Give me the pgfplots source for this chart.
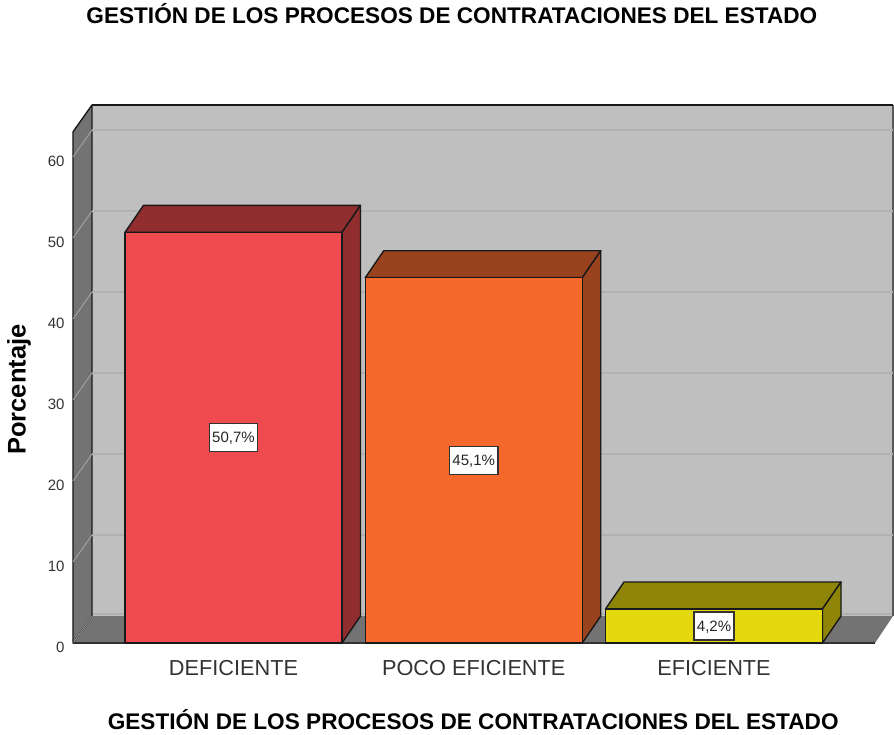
\documentclass[border=0pt]{standalone}
\usepackage{fontspec}
\setmainfont{Liberation Sans}
\usepackage{pgfplots}
\pgfplotsset{compat=1.18}

\definecolor{backwall}{HTML}{BFBFBF}
\definecolor{sidewall}{HTML}{737373}
\definecolor{gridback}{HTML}{B1B1B1}
\definecolor{gridside}{HTML}{A8A8A8}
\definecolor{redfront}{HTML}{EF4B4F}
\definecolor{redtop}{HTML}{8F2D2F}
\definecolor{orangefront}{HTML}{F4692B}
\definecolor{orangetop}{HTML}{99431E}
\definecolor{yellowfront}{HTML}{E4D80E}
\definecolor{yellowtop}{HTML}{8E8407}

\pgfplotsset{
  face/.style={line width=1.4pt, draw=black!90, line join=round},
  bar3d/.style={ybar, bar width=217pt, bar shift=0pt, face},
}

\begin{document}
\begin{tikzpicture}
\path[use as bounding box] (-73pt,-91pt) rectangle (821pt,643pt);
\begin{axis}[
  scale only axis, width=820pt, height=538pt,
  xmin=-0.668, xmax=2.745, ymin=0, ymax=66.42,
  clip=false,
  axis line style={draw=none},
  tick style={draw=none},
  xtick={0,1,2},
  xticklabels={DEFICIENTE,POCO EFICIENTE,EFICIENTE},
  ytick={0,10,20,30,40,50,60},
  /pgf/number format/assume math mode=true,
  x tick label style={font=\fontsize{21.7}{24}\selectfont, text=black!80, yshift=-14pt},
  y tick label style={font=\fontsize{15}{17}\selectfont, text=black!80, yshift=-4.5pt, xshift=-5pt},
  title={GESTIÓN DE LOS PROCESOS DE CONTRATACIONES DEL ESTADO},
  title style={font=\bfseries\fontsize{22.6}{24}\selectfont, at={(axis description cs:0.462,1.1)}, anchor=center, inner sep=0pt, yshift=32pt},
  xlabel={GESTIÓN DE LOS PROCESOS DE CONTRATACIONES DEL ESTADO},
  xlabel style={font=\bfseries\fontsize{22.6}{24}\selectfont, at={(axis description cs:0.488,0)}, anchor=center, inner sep=0pt, yshift=-77pt},
  ylabel={Porcentaje},
  ylabel style={font=\bfseries\fontsize{25.5}{26}\selectfont, at={(axis description cs:0,0.471)}, anchor=center, inner sep=0pt, yshift=54pt},
]
% walls and floor
\addplot[fill=backwall, draw=none] coordinates {(-0.589,3.33) (2.745,3.33) (2.745,66.42) (-0.589,66.42)} --cycle;
\addplot[fill=sidewall, draw=none] coordinates {(-0.668,0) (2.670,0) (2.745,3.33) (-0.589,3.33)} --cycle;
\addplot[gridback, line width=2pt] coordinates {(-0.589,3.6) (2.745,3.6)};
\addplot[black!65, line width=1.2pt] coordinates {(2.745,3.33) (2.745,66.42)};
\addplot[fill=sidewall, face] coordinates {(-0.668,0) (-0.589,3.33) (-0.589,66.42) (-0.668,63.1)} --cycle;
\addplot[black!90, line width=1.4pt] coordinates {(-0.589,66.42) (2.745,66.42)};
% grid lines on the walls
\addplot[gridback, line width=1.4pt, unbounded coords=jump] coordinates {
  (-0.589,13.33) (2.745,13.33) (2.745,nan)
  (-0.589,23.33) (2.745,23.33) (2.745,nan)
  (-0.589,33.33) (2.745,33.33) (2.745,nan)
  (-0.589,43.33) (2.745,43.33) (2.745,nan)
  (-0.589,53.33) (2.745,53.33) (2.745,nan)
  (-0.589,63.33) (2.745,63.33)
};
\addplot[gridside, line width=0.8pt, unbounded coords=jump] coordinates {
  (-0.668,0) (-0.589,3.33) (-0.589,nan)
  (-0.668,10) (-0.589,13.33) (-0.589,nan)
  (-0.668,20) (-0.589,23.33) (-0.589,nan)
  (-0.668,30) (-0.589,33.33) (-0.589,nan)
  (-0.668,40) (-0.589,43.33) (-0.589,nan)
  (-0.668,50) (-0.589,53.33) (-0.589,nan)
  (-0.668,60) (-0.589,63.33)
};
\addplot[black!80, line width=1.6pt] coordinates {(-0.668,0) (2.670,0)};
% DEFICIENTE
\addplot[fill=redtop, face] coordinates {(-0.4516,50.7) (-0.3746,54.03) (0.5286,54.03) (0.4516,50.7)} --cycle;
\addplot[fill=redtop, face] coordinates {(0.4516,0) (0.5286,3.33) (0.5286,54.03) (0.4516,50.7)} --cycle;
\addplot[bar3d, fill=redfront] coordinates {(0,50.7)};
% POCO EFICIENTE
\addplot[fill=orangetop, face] coordinates {(0.5484,45.1) (0.6254,48.43) (1.5286,48.43) (1.4516,45.1)} --cycle;
\addplot[fill=orangetop, face] coordinates {(1.4516,0) (1.5286,3.33) (1.5286,48.43) (1.4516,45.1)} --cycle;
\addplot[bar3d, fill=orangefront] coordinates {(1,45.1)};
% EFICIENTE
\addplot[fill=yellowtop, face] coordinates {(1.5484,4.2) (1.6254,7.53) (2.5286,7.53) (2.4516,4.2)} --cycle;
\addplot[fill=yellowtop, face] coordinates {(2.4516,0) (2.5286,3.33) (2.5286,7.53) (2.4516,4.2)} --cycle;
\addplot[bar3d, fill=yellowfront] coordinates {(2,4.2)};
% value boxes, halfway up each bar
\addplot[draw=none, mark=none, point meta=explicit symbolic,
  nodes near coords,
  nodes near coords style={anchor=center, font=\fontsize{15}{17}\selectfont, text=black!85,
    fill=white, draw=black!80, line width=1.3pt, inner sep=0pt, minimum height=28pt, text depth=0pt,
    inner xsep=3pt}]
  coordinates {(0,25.35)[50,7\%] (1,22.55)[45,1\%] (2,2.1)[4,2\%]};
\end{axis}
\end{tikzpicture}
\end{document}
